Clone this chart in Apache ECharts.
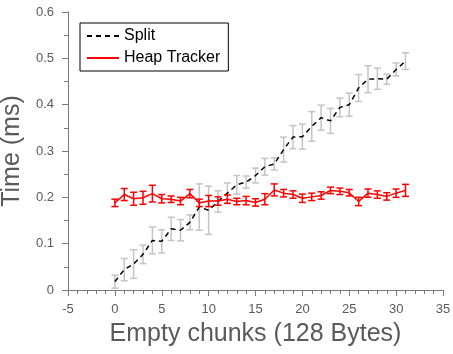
<!DOCTYPE html>
<html>
<head>
<meta charset="utf-8">
<script src="https://cdn.jsdelivr.net/npm/echarts@6/dist/echarts.min.js"></script>
<style>
  html, body { margin: 0; padding: 0; background: #fff; }
  #chart { width: 453px; height: 354px; }
</style>
</head>
<body>
<div id="chart"></div>
<script>
const chunks = [0, 1, 2, 3, 4, 5, 6, 7, 8, 9, 10, 11, 12, 13, 14, 15,
  16, 17, 18, 19, 20, 21, 22, 23, 24, 25, 26, 27, 28, 29, 30, 31]

const splitMean = [0.018, 0.044, 0.056, 0.077, 0.107, 0.105, 0.132, 0.129, 0.146, 0.179, 0.172, 0.191,
  0.209, 0.227, 0.233, 0.247, 0.266, 0.272, 0.303, 0.330, 0.331, 0.353, 0.372, 0.365,
  0.394, 0.400, 0.436, 0.455, 0.456, 0.455, 0.476, 0.494]
const splitErr = [0.014, 0.024, 0.031, 0.020, 0.029, 0.025, 0.025, 0.023, 0.016, 0.050, 0.052, 0.023,
  0.022, 0.020, 0.013, 0.016, 0.018, 0.013, 0.027, 0.025, 0.027, 0.032, 0.027, 0.027,
  0.020, 0.025, 0.029, 0.029, 0.023, 0.011, 0.014, 0.018]

const heapMean = [0.188, 0.206, 0.197, 0.199, 0.208, 0.197, 0.196, 0.192, 0.208, 0.188, 0.192, 0.192,
  0.196, 0.191, 0.193, 0.189, 0.196, 0.216, 0.209, 0.206, 0.198, 0.201, 0.204, 0.215,
  0.213, 0.210, 0.191, 0.209, 0.206, 0.202, 0.209, 0.215]
const heapErr = [0.008, 0.013, 0.014, 0.014, 0.018, 0.009, 0.007, 0.008, 0.009, 0.008, 0.012, 0.009,
  0.009, 0.007, 0.009, 0.008, 0.012, 0.013, 0.008, 0.008, 0.009, 0.008, 0.008, 0.007,
  0.007, 0.007, 0.009, 0.009, 0.008, 0.008, 0.009, 0.013]

const xTicks = { min: -5, max: 35, interval: 5 }
const yTicks = { min: 0, max: 0.6, interval: 0.1 }

const FONT = '"Liberation Sans", Arial, Helvetica, sans-serif'
const AXIS_GRAY = '#7a7a7a'
const TEXT_GRAY = '#5a5a5a'

function linePoints(mean) {
  return chunks.map((x, i) => [x, mean[i]])
}
function barPoints(mean, err) {
  return chunks.map((x, i) => [x, mean[i] - err[i], mean[i] + err[i]])
}

// vertical whisker with a short cap at each end
function errorBars(color, width) {
  return function (params, api) {
    const x = api.value(0)
    const lo = api.coord([x, api.value(1)])
    const hi = api.coord([x, api.value(2)])
    const cap = 3.5
    const style = { stroke: color, lineWidth: width }
    return {
      type: 'group',
      children: [
        { type: 'line', shape: { x1: hi[0], y1: hi[1], x2: lo[0], y2: lo[1] }, style },
        { type: 'line', shape: { x1: hi[0] - cap, y1: hi[1], x2: hi[0] + cap, y2: hi[1] }, style },
        { type: 'line', shape: { x1: lo[0] - cap, y1: lo[1], x2: lo[0] + cap, y2: lo[1] }, style },
      ],
    }
  }
}

const chart = echarts.init(document.getElementById('chart'), null, { renderer: 'canvas' })

chart.setOption({
  animation: false,
  backgroundColor: '#fff',
  textStyle: { fontFamily: FONT },
  grid: { left: 68, right: 10, top: 12, bottom: 64, outerBoundsMode: 'none' },
  legend: {
    data: ['Split', 'Heap Tracker'],
    orient: 'vertical',
    left: 80,
    top: 23,
    padding: [5, 8, 5, 6],
    itemGap: 6,
    itemWidth: 32,
    itemHeight: 15,
    borderColor: '#000',
    borderWidth: 1,
    borderRadius: 0,
    backgroundColor: '#fff',
    itemStyle: { opacity: 0 },
    textStyle: { color: '#000', fontSize: 16, fontFamily: FONT },
  },
  xAxis: {
    type: 'value',
    min: xTicks.min,
    max: xTicks.max,
    interval: xTicks.interval,
    name: 'Empty chunks (128 Bytes)',
    nameLocation: 'middle',
    nameGap: 32,
    nameTextStyle: { fontSize: 25, color: TEXT_GRAY, fontFamily: FONT },
    axisLine: { onZero: false, lineStyle: { color: AXIS_GRAY, width: 1 } },
    axisTick: { length: 6, lineStyle: { color: AXIS_GRAY } },
    minorTick: { show: true, splitNumber: 5, length: 4, lineStyle: { color: AXIS_GRAY } },
    axisLabel: { color: TEXT_GRAY, fontSize: 13, margin: 13 },
    splitLine: { show: false },
  },
  yAxis: {
    type: 'value',
    min: yTicks.min,
    max: yTicks.max,
    interval: yTicks.interval,
    name: 'Time (ms)',
    nameLocation: 'middle',
    nameGap: 32,
    nameTextStyle: { fontSize: 25, color: TEXT_GRAY, fontFamily: FONT },
    axisLine: { show: true, onZero: false, lineStyle: { color: AXIS_GRAY, width: 1 } },
    axisTick: { show: true, length: 6, lineStyle: { color: AXIS_GRAY } },
    minorTick: { show: true, splitNumber: 2, length: 4, lineStyle: { color: AXIS_GRAY } },
    axisLabel: { color: TEXT_GRAY, fontSize: 13, margin: 14 },
    splitLine: { show: false },
  },
  series: [
    {
      name: 'Split err',
      type: 'custom',
      renderItem: errorBars('#c4c4c4', 1.5),
      data: barPoints(splitMean, splitErr),
      encode: { x: 0, y: [1, 2] },
      z: 1,
      silent: true,
    },
    {
      name: 'Split',
      type: 'line',
      data: linePoints(splitMean),
      symbol: 'none',
      lineStyle: { color: '#000', width: 1.5, type: [5, 4] },
      itemStyle: { color: '#000' },
      z: 2,
    },
    {
      name: 'Heap Tracker',
      type: 'line',
      data: linePoints(heapMean),
      symbol: 'none',
      lineStyle: { color: '#ff0000', width: 1.5 },
      itemStyle: { color: '#ff0000' },
      z: 3,
    },
    {
      name: 'Heap err',
      type: 'custom',
      renderItem: errorBars('#ff0000', 1.5),
      data: barPoints(heapMean, heapErr),
      encode: { x: 0, y: [1, 2] },
      z: 4,
      silent: true,
    },
  ],
})
</script>
</body>
</html>
